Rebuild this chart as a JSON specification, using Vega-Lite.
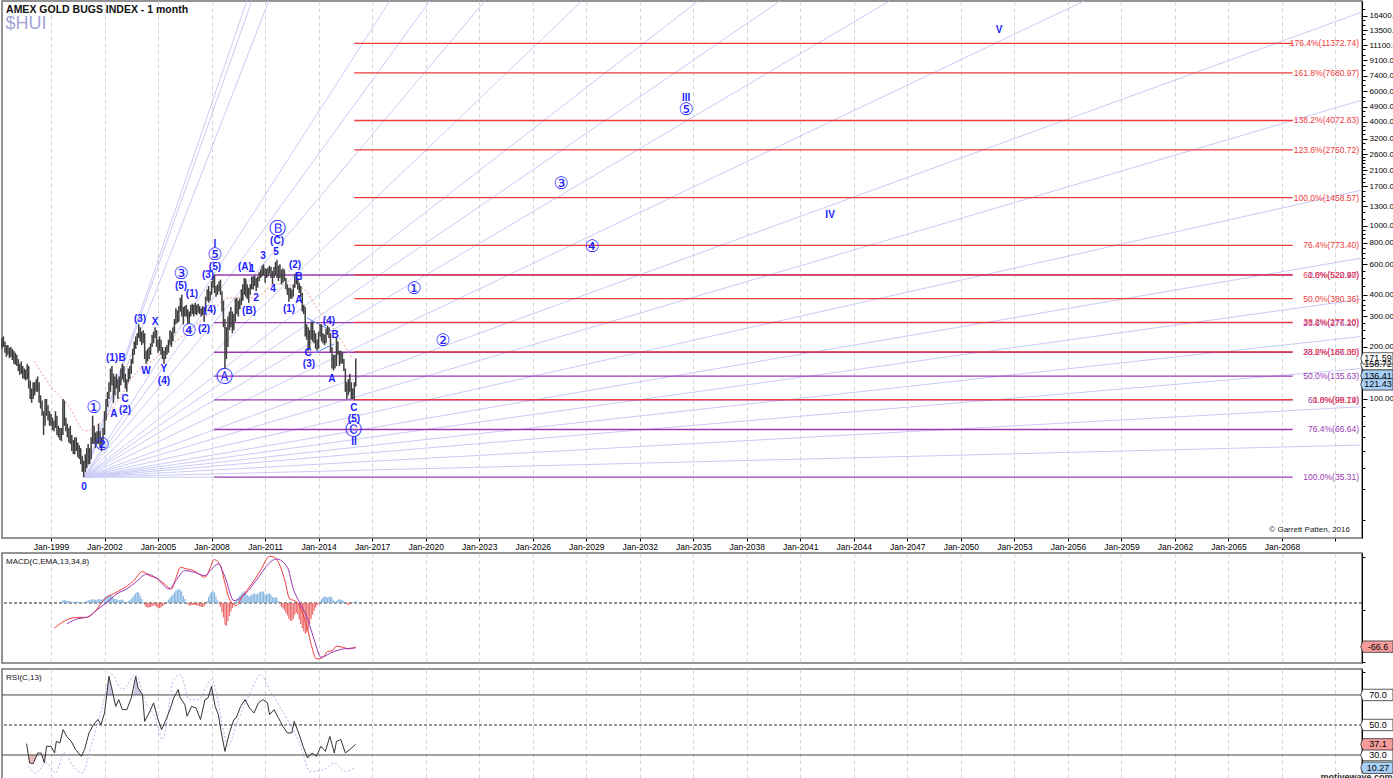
{
"$schema":"https://vega.github.io/schema/vega-lite/v6.json",
"padding":{"left":0,"top":0,"right":-8,"bottom":0},
"spacing":0,
"background":"white",
"resolve":{"scale":{"x":"independent","y":"independent"}},
"config":{"font":"Liberation Sans","view":{"stroke":"#707070","strokeWidth":1.5},"concat":{"spacing":0}},
"datasets":{
"price":[
{"t":1996.25,"l":195,"h":225},{"t":1996.333,"l":200,"h":230},{"t":1996.417,"l":185,"h":215},{"t":1996.5,"l":175,"h":205},{"t":1996.583,"l":180,"h":205},{"t":1996.667,"l":172,"h":198},{"t":1996.75,"l":175,"h":200},{"t":1996.833,"l":168,"h":195},{"t":1996.917,"l":160,"h":190},
{"t":1997.0,"l":158,"h":185},{"t":1997.083,"l":155,"h":180},{"t":1997.167,"l":145,"h":170},{"t":1997.25,"l":138,"h":160},{"t":1997.333,"l":140,"h":165},{"t":1997.417,"l":132,"h":155},{"t":1997.5,"l":130,"h":150},{"t":1997.583,"l":128,"h":148},{"t":1997.667,"l":130,"h":160},{"t":1997.75,"l":115,"h":155},{"t":1997.833,"l":100,"h":128},{"t":1997.917,"l":95,"h":115},
{"t":1998.0,"l":100,"h":125},{"t":1998.083,"l":105,"h":125},{"t":1998.167,"l":110,"h":130},{"t":1998.25,"l":110,"h":135},{"t":1998.333,"l":95,"h":125},{"t":1998.417,"l":88,"h":105},{"t":1998.5,"l":80,"h":98},{"t":1998.583,"l":62,"h":85},{"t":1998.667,"l":70,"h":100},{"t":1998.75,"l":80,"h":100},{"t":1998.833,"l":75,"h":92},{"t":1998.917,"l":70,"h":85},
{"t":1999.0,"l":70,"h":82},{"t":1999.083,"l":66,"h":78},{"t":1999.167,"l":65,"h":75},{"t":1999.25,"l":68,"h":85},{"t":1999.333,"l":62,"h":80},{"t":1999.417,"l":60,"h":70},{"t":1999.5,"l":58,"h":68},{"t":1999.583,"l":57,"h":68},{"t":1999.667,"l":62,"h":100},{"t":1999.75,"l":70,"h":98},{"t":1999.833,"l":65,"h":78},{"t":1999.917,"l":60,"h":72},
{"t":2000.0,"l":56,"h":68},{"t":2000.083,"l":55,"h":70},{"t":2000.167,"l":50,"h":62},{"t":2000.25,"l":48,"h":58},{"t":2000.333,"l":48,"h":60},{"t":2000.417,"l":50,"h":60},{"t":2000.5,"l":46,"h":56},{"t":2000.583,"l":45,"h":54},{"t":2000.667,"l":42,"h":52},{"t":2000.75,"l":38,"h":47},{"t":2000.833,"l":35.31,"h":44},{"t":2000.917,"l":38,"h":48},
{"t":2001.0,"l":40,"h":52},{"t":2001.083,"l":42,"h":55},{"t":2001.167,"l":42,"h":52},{"t":2001.25,"l":45,"h":60},{"t":2001.333,"l":55,"h":80},{"t":2001.417,"l":55,"h":70},{"t":2001.5,"l":52,"h":64},{"t":2001.583,"l":55,"h":65},{"t":2001.667,"l":55,"h":72},{"t":2001.75,"l":52,"h":65},{"t":2001.833,"l":50,"h":60},{"t":2001.917,"l":55,"h":68},
{"t":2002.0,"l":62,"h":85},{"t":2002.083,"l":75,"h":100},{"t":2002.167,"l":90,"h":110},{"t":2002.25,"l":100,"h":125},{"t":2002.333,"l":110,"h":150},{"t":2002.417,"l":120,"h":155},{"t":2002.5,"l":95,"h":140},{"t":2002.583,"l":105,"h":135},{"t":2002.667,"l":115,"h":140},{"t":2002.75,"l":100,"h":130},{"t":2002.833,"l":110,"h":135},{"t":2002.917,"l":120,"h":150},
{"t":2003.0,"l":130,"h":160},{"t":2003.083,"l":125,"h":155},{"t":2003.167,"l":115,"h":140},{"t":2003.25,"l":110,"h":130},{"t":2003.333,"l":125,"h":150},{"t":2003.417,"l":130,"h":155},{"t":2003.5,"l":140,"h":170},{"t":2003.583,"l":160,"h":195},{"t":2003.667,"l":180,"h":215},{"t":2003.75,"l":195,"h":230},{"t":2003.833,"l":205,"h":240},{"t":2003.917,"l":225,"h":270},
{"t":2004.0,"l":215,"h":260},{"t":2004.083,"l":205,"h":245},{"t":2004.167,"l":210,"h":250},{"t":2004.25,"l":170,"h":240},{"t":2004.333,"l":160,"h":190},{"t":2004.417,"l":165,"h":195},{"t":2004.5,"l":170,"h":200},{"t":2004.583,"l":180,"h":210},{"t":2004.667,"l":200,"h":235},{"t":2004.75,"l":210,"h":245},{"t":2004.833,"l":225,"h":260},{"t":2004.917,"l":200,"h":250},
{"t":2005.0,"l":185,"h":220},{"t":2005.083,"l":190,"h":230},{"t":2005.167,"l":180,"h":220},{"t":2005.25,"l":170,"h":200},{"t":2005.333,"l":160,"h":190},{"t":2005.417,"l":170,"h":200},{"t":2005.5,"l":180,"h":205},{"t":2005.583,"l":185,"h":220},{"t":2005.667,"l":205,"h":250},{"t":2005.75,"l":200,"h":245},{"t":2005.833,"l":215,"h":260},{"t":2005.917,"l":240,"h":290},
{"t":2006.0,"l":270,"h":335},{"t":2006.083,"l":275,"h":325},{"t":2006.167,"l":280,"h":345},{"t":2006.25,"l":320,"h":385},{"t":2006.333,"l":300,"h":400},{"t":2006.417,"l":270,"h":340},{"t":2006.5,"l":300,"h":345},{"t":2006.583,"l":300,"h":350},{"t":2006.667,"l":270,"h":330},{"t":2006.75,"l":275,"h":320},{"t":2006.833,"l":300,"h":350},{"t":2006.917,"l":310,"h":355},
{"t":2007.0,"l":300,"h":350},{"t":2007.083,"l":310,"h":360},{"t":2007.167,"l":305,"h":350},{"t":2007.25,"l":315,"h":355},{"t":2007.333,"l":310,"h":345},{"t":2007.417,"l":300,"h":335},{"t":2007.5,"l":305,"h":345},{"t":2007.583,"l":280,"h":340},{"t":2007.667,"l":320,"h":390},{"t":2007.75,"l":370,"h":430},{"t":2007.833,"l":360,"h":450},{"t":2007.917,"l":370,"h":420},
{"t":2008.0,"l":400,"h":480},{"t":2008.083,"l":440,"h":515},{"t":2008.167,"l":410,"h":521},{"t":2008.25,"l":390,"h":450},{"t":2008.333,"l":400,"h":460},{"t":2008.417,"l":420,"h":480},{"t":2008.5,"l":400,"h":490},{"t":2008.583,"l":320,"h":420},{"t":2008.667,"l":260,"h":370},{"t":2008.75,"l":150,"h":290},{"t":2008.833,"l":170,"h":260},{"t":2008.917,"l":200,"h":300},
{"t":2009.0,"l":250,"h":320},{"t":2009.083,"l":260,"h":340},{"t":2009.167,"l":240,"h":320},{"t":2009.25,"l":250,"h":310},{"t":2009.333,"l":280,"h":380},{"t":2009.417,"l":310,"h":385},{"t":2009.5,"l":300,"h":370},{"t":2009.583,"l":330,"h":380},{"t":2009.667,"l":350,"h":430},{"t":2009.75,"l":370,"h":460},{"t":2009.833,"l":400,"h":500},{"t":2009.917,"l":390,"h":495},
{"t":2010.0,"l":380,"h":460},{"t":2010.083,"l":360,"h":440},{"t":2010.167,"l":400,"h":460},{"t":2010.25,"l":430,"h":510},{"t":2010.333,"l":430,"h":510},{"t":2010.417,"l":450,"h":520},{"t":2010.5,"l":420,"h":500},{"t":2010.583,"l":440,"h":510},{"t":2010.667,"l":480,"h":540},{"t":2010.75,"l":500,"h":560},{"t":2010.833,"l":510,"h":590},{"t":2010.917,"l":520,"h":600},
{"t":2011.0,"l":470,"h":570},{"t":2011.083,"l":500,"h":565},{"t":2011.167,"l":510,"h":575},{"t":2011.25,"l":530,"h":590},{"t":2011.333,"l":500,"h":580},{"t":2011.417,"l":460,"h":550},{"t":2011.5,"l":500,"h":580},{"t":2011.583,"l":520,"h":620},{"t":2011.667,"l":500,"h":638},{"t":2011.75,"l":480,"h":590},{"t":2011.833,"l":500,"h":600},{"t":2011.917,"l":460,"h":560},
{"t":2012.0,"l":470,"h":570},{"t":2012.083,"l":480,"h":560},{"t":2012.167,"l":430,"h":500},{"t":2012.25,"l":400,"h":460},{"t":2012.333,"l":365,"h":440},{"t":2012.417,"l":380,"h":440},{"t":2012.5,"l":380,"h":430},{"t":2012.583,"l":390,"h":460},{"t":2012.667,"l":440,"h":530},{"t":2012.75,"l":460,"h":540},{"t":2012.833,"l":430,"h":500},{"t":2012.917,"l":410,"h":470},
{"t":2013.0,"l":390,"h":450},{"t":2013.083,"l":320,"h":410},{"t":2013.167,"l":310,"h":350},{"t":2013.25,"l":230,"h":340},{"t":2013.333,"l":220,"h":270},{"t":2013.417,"l":190,"h":260},{"t":2013.5,"l":195,"h":250},{"t":2013.583,"l":220,"h":280},{"t":2013.667,"l":215,"h":280},{"t":2013.75,"l":210,"h":250},{"t":2013.833,"l":195,"h":240},{"t":2013.917,"l":190,"h":220},
{"t":2014.0,"l":195,"h":245},{"t":2014.083,"l":230,"h":270},{"t":2014.167,"l":215,"h":270},{"t":2014.25,"l":210,"h":240},{"t":2014.333,"l":205,"h":235},{"t":2014.417,"l":210,"h":255},{"t":2014.5,"l":235,"h":265},{"t":2014.583,"l":225,"h":260},{"t":2014.667,"l":185,"h":240},{"t":2014.75,"l":150,"h":200},{"t":2014.833,"l":146,"h":180},{"t":2014.917,"l":150,"h":180},
{"t":2015.0,"l":155,"h":225},{"t":2015.083,"l":180,"h":215},{"t":2015.167,"l":155,"h":190},{"t":2015.25,"l":160,"h":190},{"t":2015.333,"l":160,"h":185},{"t":2015.417,"l":145,"h":170},{"t":2015.5,"l":110,"h":150},{"t":2015.583,"l":100,"h":125},{"t":2015.667,"l":105,"h":130},{"t":2015.75,"l":110,"h":140},{"t":2015.833,"l":100,"h":125},{"t":2015.917,"l":100,"h":115},
{"t":2016.0,"l":99.17,"h":125},{"t":2016.083,"l":118,"h":171.59}
],
"ma":[
{"t":1998.05,"v":166},{"t":1999.06,"v":115.8},{"t":2000.0,"v":91.1},{"t":2000.91,"v":65.3},{"t":2001.86,"v":74.6},{"t":2002.81,"v":100},{"t":2003.71,"v":139.5},{"t":2004.66,"v":166},{"t":2005.6,"v":200},{"t":2006.74,"v":247},{"t":2007.86,"v":310},{"t":2008.98,"v":384},{"t":2010.43,"v":384},{"t":2011.56,"v":462},{"t":2013.07,"v":438},{"t":2014.02,"v":323},{"t":2014.92,"v":247},{"t":2015.87,"v":172.6}
],
"fan":[
{"id":1,"t":2000.833,"v":35.31},{"id":1,"t":2012.30,"v":100000},
{"id":2,"t":2000.833,"v":35.31},{"id":2,"t":2012.65,"v":100000},
{"id":3,"t":2000.833,"v":35.31},{"id":3,"t":2013.84,"v":100000},
{"id":4,"t":2000.833,"v":35.31},{"id":4,"t":2022.35,"v":100000},
{"id":5,"t":2000.833,"v":35.31},{"id":5,"t":2025.16,"v":100000},
{"id":6,"t":2000.833,"v":35.31},{"id":6,"t":2029.03,"v":100000},
{"id":7,"t":2000.833,"v":35.31},{"id":7,"t":2035.85,"v":100000},
{"id":8,"t":2000.833,"v":35.31},{"id":8,"t":2044.02,"v":100000},
{"id":9,"t":2000.833,"v":35.31},{"id":9,"t":2049.77,"v":100000},
{"id":10,"t":2000.833,"v":35.31},{"id":10,"t":2057.47,"v":100000},
{"id":11,"t":2000.833,"v":35.31},{"id":11,"t":2071.16,"v":100000},
{"id":12,"t":2000.833,"v":35.31},{"id":12,"t":2072.49,"v":17260},
{"id":13,"t":2000.833,"v":35.31},{"id":13,"t":2072.49,"v":5346},
{"id":14,"t":2000.833,"v":35.31},{"id":14,"t":2072.49,"v":1614},
{"id":15,"t":2000.833,"v":35.31},{"id":15,"t":2072.49,"v":653},
{"id":16,"t":2000.833,"v":35.31},{"id":16,"t":2072.49,"v":378},
{"id":17,"t":2000.833,"v":35.31},{"id":17,"t":2072.49,"v":230},
{"id":18,"t":2000.833,"v":35.31},{"id":18,"t":2072.49,"v":150},
{"id":19,"t":2000.833,"v":35.31},{"id":19,"t":2072.49,"v":90.3},
{"id":20,"t":2000.833,"v":35.31},{"id":20,"t":2072.49,"v":54.2},
{"id":21,"t":2000.833,"v":35.31},{"id":21,"t":2008.14,"v":35.31}
],
"fib":[
{"t":2008.14,"v":520.97,"c":"p","s":"0.0%(520.97)"},
{"t":2008.14,"v":276.2,"c":"p","s":"23.6%(276.20)"},
{"t":2008.14,"v":186.3,"c":"p","s":"38.2%(186.30)"},
{"t":2008.14,"v":135.63,"c":"p","s":"50.0%(135.63)"},
{"t":2008.14,"v":98.74,"c":"p","s":"61.8%(98.74)"},
{"t":2008.14,"v":66.64,"c":"p","s":"76.4%(66.64)"},
{"t":2008.14,"v":35.31,"c":"p","s":"100.0%(35.31)"},
{"t":2016.0,"v":99.19,"c":"r","s":"0.0%(99.19)"},
{"t":2016.0,"v":187.05,"c":"r","s":"23.6%(187.05)"},
{"t":2016.0,"v":277.1,"c":"r","s":"38.2%(277.10)"},
{"t":2016.0,"v":380.36,"c":"r","s":"50.0%(380.36)"},
{"t":2016.0,"v":522.4,"c":"r","s":"61.8%(522.40)"},
{"t":2016.0,"v":773.4,"c":"r","s":"76.4%(773.40)"},
{"t":2016.0,"v":1458.57,"c":"r","s":"100.0%(1458.57)"},
{"t":2016.0,"v":2750.72,"c":"r","s":"123.6%(2750.72)"},
{"t":2016.0,"v":4072.83,"c":"r","s":"138.2%(4072.83)"},
{"t":2016.0,"v":7680.97,"c":"r","s":"161.8%(7680.97)"},
{"t":2016.0,"v":11372.74,"c":"r","s":"176.4%(11372.74)"}
],
"chan":[
{"id":1,"t":2013.35,"v":294},{"id":1,"t":2014.75,"v":247},
{"id":2,"t":2013.80,"v":184.6},{"id":2,"t":2014.86,"v":208}
],
"wl":[
{"t":2000.85,"v":31.0,"s":"0"},{"t":2002.53,"v":81.9,"s":"A"},{"t":2003.15,"v":100,"s":"C"},{"t":2003.15,"v":86.4,"s":"(2)"},
{"t":2002.42,"v":172.6,"s":"(1)"},{"t":2002.98,"v":172.6,"s":"B"},{"t":2003.99,"v":289.6,"s":"(3)"},{"t":2004.83,"v":278.5,"s":"X"},
{"t":2004.33,"v":145.2,"s":"W"},{"t":2005.33,"v":149,"s":"Y"},{"t":2005.33,"v":127,"s":"(4)"},{"t":2006.29,"v":450,"s":"(5)"},
{"t":2006.9,"v":404.7,"s":"(1)"},{"t":2007.58,"v":254,"s":"(2)"},{"t":2007.91,"v":327,"s":"(4)"},{"t":2007.8,"v":521,"s":"(3)"},
{"t":2008.19,"v":580,"s":"(5)"},{"t":2008.19,"v":786,"s":"I"},{"t":2009.87,"v":580,"s":"(A)"},{"t":2010.27,"v":564,"s":"1"},
{"t":2010.1,"v":323,"s":"(B)"},{"t":2010.49,"v":384,"s":"2"},{"t":2010.88,"v":671,"s":"3"},{"t":2011.44,"v":432,"s":"4"},
{"t":2011.61,"v":708,"s":"5"},{"t":2011.67,"v":819,"s":"(C)"},{"t":2012.68,"v":595,"s":"(2)"},{"t":2012.9,"v":507,"s":"B"},
{"t":2012.9,"v":373,"s":"A"},{"t":2012.34,"v":331,"s":"(1)"},{"t":2014.58,"v":282,"s":"(4)"},{"t":2014.92,"v":234,"s":"B"},
{"t":2013.41,"v":184.5,"s":"C"},{"t":2013.46,"v":159.3,"s":"(3)"},{"t":2014.75,"v":130.6,"s":"A"},{"t":2015.98,"v":88.7,"s":"C"},
{"t":2015.98,"v":76.6,"s":"(5)"},{"t":2015.98,"v":56.4,"s":"II"},{"t":2034.6,"v":5500,"s":"III"},{"t":2042.67,"v":1159,"s":"IV"},
{"t":2052.14,"v":13590,"s":"V"}
],
"wc":[
{"t":2001.86,"v":54.2,"s":"②"},{"t":2001.41,"v":88.7,"s":"①"},{"t":2006.29,"v":528,"s":"③"},{"t":2006.74,"v":247,"s":"④"},
{"t":2008.19,"v":680,"s":"⑤"},{"t":2008.75,"v":134,"s":"Ⓐ"},{"t":2011.67,"v":961,"s":"Ⓑ"},{"t":2015.98,"v":66.2,"s":"Ⓒ"},
{"t":2019.35,"v":432,"s":"①"},{"t":2020.97,"v":216,"s":"②"},{"t":2027.59,"v":1750,"s":"③"},{"t":2029.33,"v":757,"s":"④"},
{"t":2034.6,"v":4690,"s":"⑤"}
],
"boxmain":[
{"v":158.72,"s":"158.72","f":"w"},{"v":171.59,"s":"171.59","f":"w"},{"v":136.41,"s":"136.41","f":"b"},{"v":121.43,"s":"121.43","f":"b"}
],
"macd":[
{"k":"m","t":1999.2,"y":-38.1},{"k":"m","t":1999.6,"y":-30},{"k":"m","t":2000.0,"y":-24.4},{"k":"m","t":2000.5,"y":-22},{"k":"m","t":2001.0,"y":-21.9},{"k":"m","t":2001.5,"y":-12},{"k":"m","t":2002.0,"y":6.1},{"k":"m","t":2002.5,"y":14},{"k":"m","t":2003.0,"y":21.3},{"k":"m","t":2003.6,"y":33},{"k":"m","t":2004.13,"y":47.8},{"k":"m","t":2004.5,"y":42},{"k":"m","t":2005.0,"y":36.6},{"k":"m","t":2005.4,"y":28},{"k":"m","t":2005.75,"y":21.3},{"k":"m","t":2006.0,"y":38},{"k":"m","t":2006.25,"y":54.4},{"k":"m","t":2006.6,"y":52},{"k":"m","t":2007.0,"y":49.3},{"k":"m","t":2007.3,"y":44},{"k":"m","t":2007.63,"y":39.1},{"k":"m","t":2007.9,"y":52},{"k":"m","t":2008.13,"y":66.1},{"k":"m","t":2008.5,"y":56.9},{"k":"m","t":2008.75,"y":30},{"k":"m","t":2009.0,"y":6.1},{"k":"m","t":2009.38,"y":-4.1},{"k":"m","t":2009.75,"y":11.2},{"k":"m","t":2010.25,"y":29},{"k":"m","t":2010.75,"y":50},{"k":"m","t":2011.25,"y":71.1},{"k":"m","t":2011.5,"y":70},{"k":"m","t":2011.75,"y":62},{"k":"m","t":2012.1,"y":35},{"k":"m","t":2012.38,"y":6.1},{"k":"m","t":2012.6,"y":4},{"k":"m","t":2012.88,"y":-1.5},{"k":"m","t":2013.13,"y":-18},{"k":"m","t":2013.38,"y":-39.6},{"k":"m","t":2013.6,"y":-65},{"k":"m","t":2013.88,"y":-85.4},{"k":"m","t":2014.25,"y":-82.8},{"k":"m","t":2014.5,"y":-74},{"k":"m","t":2014.75,"y":-72.7},{"k":"m","t":2015.0,"y":-66},{"k":"m","t":2015.38,"y":-67.6},{"k":"m","t":2015.7,"y":-70},{"k":"m","t":2016.08,"y":-66.6},
{"k":"s","t":1999.88,"y":-32},{"k":"s","t":2000.5,"y":-24},{"k":"s","t":2001.0,"y":-21.9},{"k":"s","t":2001.6,"y":-10},{"k":"s","t":2002.25,"y":3.6},{"k":"s","t":2002.7,"y":14},{"k":"s","t":2003.25,"y":21.3},{"k":"s","t":2003.8,"y":33},{"k":"s","t":2004.38,"y":44.2},{"k":"s","t":2004.9,"y":38},{"k":"s","t":2005.63,"y":21.3},{"k":"s","t":2006.0,"y":34},{"k":"s","t":2006.5,"y":49.3},{"k":"s","t":2007.0,"y":47},{"k":"s","t":2007.63,"y":41.7},{"k":"s","t":2008.0,"y":52},{"k":"s","t":2008.38,"y":59.4},{"k":"s","t":2008.75,"y":40},{"k":"s","t":2009.25,"y":3.6},{"k":"s","t":2009.88,"y":13.7},{"k":"s","t":2010.63,"y":39.1},{"k":"s","t":2011.2,"y":60},{"k":"s","t":2011.63,"y":67.1},{"k":"s","t":2012.25,"y":54.4},{"k":"s","t":2012.6,"y":20},{"k":"s","t":2012.88,"y":3.6},{"k":"s","t":2013.38,"y":-24.4},{"k":"s","t":2013.8,"y":-60},{"k":"s","t":2014.13,"y":-82.8},{"k":"s","t":2014.75,"y":-75.2},{"k":"s","t":2015.4,"y":-70},{"k":"s","t":2016.08,"y":-68.6}
],
"hist":[
{"t":1999.583,"h":2},{"t":1999.667,"h":4},{"t":1999.75,"h":5},{"t":1999.833,"h":4},{"t":1999.917,"h":3},
{"t":2000.0,"h":3},{"t":2000.083,"h":3},{"t":2000.167,"h":2},{"t":2000.25,"h":2},{"t":2000.333,"h":2},{"t":2000.417,"h":2},{"t":2000.5,"h":2},{"t":2000.583,"h":2},{"t":2000.667,"h":1},{"t":2000.75,"h":1},{"t":2000.833,"h":1},{"t":2000.917,"h":2},
{"t":2001.0,"h":3},{"t":2001.083,"h":4},{"t":2001.167,"h":4},{"t":2001.25,"h":5},{"t":2001.333,"h":6},{"t":2001.417,"h":5},{"t":2001.5,"h":5},{"t":2001.583,"h":5},{"t":2001.667,"h":6},{"t":2001.75,"h":6},{"t":2001.833,"h":5},{"t":2001.917,"h":6},
{"t":2002.0,"h":8},{"t":2002.083,"h":10},{"t":2002.167,"h":11},{"t":2002.25,"h":12},{"t":2002.333,"h":13},{"t":2002.417,"h":11},{"t":2002.5,"h":7},{"t":2002.583,"h":6},{"t":2002.667,"h":6},{"t":2002.75,"h":4},{"t":2002.833,"h":4},{"t":2002.917,"h":5},
{"t":2003.0,"h":5},{"t":2003.083,"h":3},{"t":2003.167,"h":1},{"t":2003.25,"h":1},{"t":2003.333,"h":3},{"t":2003.417,"h":4},{"t":2003.5,"h":6},{"t":2003.583,"h":9},{"t":2003.667,"h":12},{"t":2003.75,"h":15},{"t":2003.833,"h":17},{"t":2003.917,"h":16},
{"t":2004.0,"h":11},{"t":2004.083,"h":6},{"t":2004.167,"h":2},{"t":2004.25,"h":-3},{"t":2004.333,"h":-6},{"t":2004.417,"h":-7},{"t":2004.5,"h":-7},{"t":2004.583,"h":-6},{"t":2004.667,"h":-5},{"t":2004.75,"h":-4},{"t":2004.833,"h":-4},{"t":2004.917,"h":-6},
{"t":2005.0,"h":-8},{"t":2005.083,"h":-8},{"t":2005.167,"h":-7},{"t":2005.25,"h":-5},{"t":2005.333,"h":-3},{"t":2005.417,"h":-1},{"t":2005.5,"h":2},{"t":2005.583,"h":5},{"t":2005.667,"h":8},{"t":2005.75,"h":10},{"t":2005.833,"h":13},{"t":2005.917,"h":16},
{"t":2006.0,"h":19},{"t":2006.083,"h":20},{"t":2006.167,"h":21},{"t":2006.25,"h":20},{"t":2006.333,"h":17},{"t":2006.417,"h":11},{"t":2006.5,"h":6},{"t":2006.583,"h":2},{"t":2006.667,"h":-2},{"t":2006.75,"h":-4},{"t":2006.833,"h":-4},{"t":2006.917,"h":-3},
{"t":2007.0,"h":-3},{"t":2007.083,"h":-3},{"t":2007.167,"h":-4},{"t":2007.25,"h":-4},{"t":2007.333,"h":-5},{"t":2007.417,"h":-6},{"t":2007.5,"h":-6},{"t":2007.583,"h":-5},{"t":2007.667,"h":-2},{"t":2007.75,"h":3},{"t":2007.833,"h":9},{"t":2007.917,"h":14},
{"t":2008.0,"h":17},{"t":2008.083,"h":18},{"t":2008.167,"h":16},{"t":2008.25,"h":10},{"t":2008.333,"h":4},{"t":2008.417,"h":-2},{"t":2008.5,"h":-6},{"t":2008.583,"h":-14},{"t":2008.667,"h":-22},{"t":2008.75,"h":-33},{"t":2008.833,"h":-35},{"t":2008.917,"h":-28},
{"t":2009.0,"h":-20},{"t":2009.083,"h":-13},{"t":2009.167,"h":-8},{"t":2009.25,"h":-3},{"t":2009.333,"h":2},{"t":2009.417,"h":5},{"t":2009.5,"h":8},{"t":2009.583,"h":11},{"t":2009.667,"h":14},{"t":2009.75,"h":16},{"t":2009.833,"h":18},{"t":2009.917,"h":15},
{"t":2010.0,"h":12},{"t":2010.083,"h":10},{"t":2010.167,"h":11},{"t":2010.25,"h":13},{"t":2010.333,"h":14},{"t":2010.417,"h":15},{"t":2010.5,"h":13},{"t":2010.583,"h":14},{"t":2010.667,"h":16},{"t":2010.75,"h":17},{"t":2010.833,"h":18},{"t":2010.917,"h":17},
{"t":2011.0,"h":13},{"t":2011.083,"h":13},{"t":2011.167,"h":14},{"t":2011.25,"h":15},{"t":2011.333,"h":12},{"t":2011.417,"h":9},{"t":2011.5,"h":8},{"t":2011.583,"h":9},{"t":2011.667,"h":8},{"t":2011.75,"h":3},{"t":2011.833,"h":-2},{"t":2011.917,"h":-6},
{"t":2012.0,"h":-8},{"t":2012.083,"h":-11},{"t":2012.167,"h":-15},{"t":2012.25,"h":-19},{"t":2012.333,"h":-24},{"t":2012.417,"h":-27},{"t":2012.5,"h":-27},{"t":2012.583,"h":-24},{"t":2012.667,"h":-18},{"t":2012.75,"h":-15},{"t":2012.833,"h":-18},{"t":2012.917,"h":-25},
{"t":2013.0,"h":-32},{"t":2013.083,"h":-38},{"t":2013.167,"h":-43},{"t":2013.25,"h":-47},{"t":2013.333,"h":-45},{"t":2013.417,"h":-40},{"t":2013.5,"h":-32},{"t":2013.583,"h":-24},{"t":2013.667,"h":-18},{"t":2013.75,"h":-12},{"t":2013.833,"h":-7},{"t":2013.917,"h":-4},
{"t":2014.0,"h":-1},{"t":2014.083,"h":3},{"t":2014.167,"h":6},{"t":2014.25,"h":9},{"t":2014.333,"h":10},{"t":2014.417,"h":9},{"t":2014.5,"h":8},{"t":2014.583,"h":9},{"t":2014.667,"h":10},{"t":2014.75,"h":8},{"t":2014.833,"h":4},{"t":2014.917,"h":2},
{"t":2015.0,"h":3},{"t":2015.083,"h":5},{"t":2015.167,"h":6},{"t":2015.25,"h":5},{"t":2015.333,"h":4},{"t":2015.417,"h":3},{"t":2015.5,"h":1},{"t":2015.583,"h":-2},{"t":2015.667,"h":-3},{"t":2015.75,"h":-2},{"t":2015.833,"h":-1},{"t":2015.917,"h":1},
{"t":2016.0,"h":2},{"t":2016.083,"h":3}
],
"rsi":[
{"t":1997.63,"r":37.6},{"t":1997.8,"r":24.7},{"t":1998.0,"r":24.2},{"t":1998.25,"r":31.3},{"t":1998.45,"r":31.3},{"t":1998.63,"r":24.7},{"t":1998.75,"r":35.8},{"t":1999.0,"r":35.8},{"t":1999.2,"r":31.3},{"t":1999.3,"r":39.1},{"t":1999.5,"r":38},{"t":1999.68,"r":46.9},{"t":1999.88,"r":42.4},{"t":2000.13,"r":39.1},{"t":2000.38,"r":33.6},{"t":2000.7,"r":29.1},{"t":2000.88,"r":33.6},{"t":2001.13,"r":44.7},{"t":2001.38,"r":50.2},{"t":2001.63,"r":53.6},{"t":2001.8,"r":50.2},{"t":2002.0,"r":58},{"t":2002.25,"r":82.4},{"t":2002.38,"r":75.8},{"t":2002.63,"r":62.4},{"t":2002.8,"r":66.9},{"t":2003.0,"r":60.2},{"t":2003.25,"r":60.2},{"t":2003.5,"r":68},{"t":2003.75,"r":82.4},{"t":2003.88,"r":74.7},{"t":2004.13,"r":70.2},{"t":2004.25,"r":52.4},{"t":2004.5,"r":58},{"t":2004.75,"r":64.7},{"t":2005.0,"r":53.6},{"t":2005.2,"r":46.9},{"t":2005.45,"r":53.6},{"t":2005.7,"r":61.3},{"t":2005.88,"r":68},{"t":2006.13,"r":73.6},{"t":2006.25,"r":68},{"t":2006.5,"r":63.6},{"t":2006.63,"r":55.8},{"t":2006.88,"r":62.4},{"t":2007.13,"r":61.3},{"t":2007.38,"r":53.6},{"t":2007.63,"r":66.9},{"t":2007.8,"r":68},{"t":2008.0,"r":75.8},{"t":2008.2,"r":62.4},{"t":2008.38,"r":56.9},{"t":2008.55,"r":44.7},{"t":2008.75,"r":32.4},{"t":2009.0,"r":44.7},{"t":2009.25,"r":53.6},{"t":2009.38,"r":54.7},{"t":2009.63,"r":62.4},{"t":2009.88,"r":66.9},{"t":2010.13,"r":61.3},{"t":2010.38,"r":58},{"t":2010.63,"r":64.7},{"t":2010.88,"r":66.9},{"t":2011.13,"r":64.7},{"t":2011.25,"r":56.9},{"t":2011.5,"r":60.2},{"t":2011.75,"r":54.7},{"t":2012.0,"r":49.1},{"t":2012.25,"r":44.7},{"t":2012.5,"r":44.7},{"t":2012.63,"r":52.4},{"t":2012.88,"r":44.7},{"t":2013.13,"r":35.8},{"t":2013.38,"r":28},{"t":2013.63,"r":31.3},{"t":2013.88,"r":29.1},{"t":2014.13,"r":35.8},{"t":2014.38,"r":32.4},{"t":2014.63,"r":42.4},{"t":2014.88,"r":31.3},{"t":2015.0,"r":39.1},{"t":2015.25,"r":40.2},{"t":2015.5,"r":31.3},{"t":2015.75,"r":33.6},{"t":2016.08,"r":37.1}
],
"rsihi":[
{"id":3,"t":2002.1,"r":70},{"id":3,"t":2002.25,"r":82.4},{"id":3,"t":2002.38,"r":75.8},{"id":3,"t":2002.47,"r":70},
{"id":4,"t":2003.6,"r":70},{"id":4,"t":2003.75,"r":82.4},{"id":4,"t":2003.88,"r":74.7},{"id":4,"t":2004.13,"r":70.2},{"id":4,"t":2004.14,"r":70},
{"id":5,"t":2006.08,"r":70},{"id":5,"t":2006.13,"r":73.6},{"id":5,"t":2006.2,"r":70},
{"id":6,"t":2007.92,"r":70},{"id":6,"t":2008.0,"r":75.8},{"id":6,"t":2008.1,"r":70}
],
"rsilo":[
{"id":1,"t":1997.72,"r":30},{"id":1,"t":1997.8,"r":24.7},{"id":1,"t":1998.0,"r":24.2},{"id":1,"t":1998.19,"r":30},
{"id":2,"t":1998.56,"r":30},{"id":2,"t":1998.63,"r":24.7},{"id":2,"t":1998.7,"r":30},
{"id":7,"t":2013.3,"r":30},{"id":7,"t":2013.38,"r":28},{"id":7,"t":2013.5,"r":30}
],
"rsib":[
{"t":1997.75,"r":22.4},{"t":1998.13,"r":18},{"t":1998.75,"r":24.7},{"t":1999.25,"r":18},{"t":1999.75,"r":31.3},{"t":2000.25,"r":22.4},{"t":2000.75,"r":18},{"t":2001.25,"r":35.8},{"t":2001.88,"r":62.4},{"t":2002.38,"r":83.6},{"t":2003.0,"r":73.6},{"t":2003.75,"r":83.6},{"t":2004.25,"r":66.9},{"t":2004.88,"r":53.6},{"t":2005.25,"r":40.2},{"t":2005.88,"r":80.2},{"t":2006.25,"r":83.6},{"t":2006.75,"r":66.9},{"t":2007.25,"r":66.9},{"t":2008.0,"r":80.2},{"t":2008.63,"r":49.1},{"t":2008.88,"r":35.8},{"t":2009.5,"r":53.6},{"t":2010.25,"r":73.6},{"t":2010.75,"r":83.6},{"t":2011.25,"r":73.6},{"t":2012.25,"r":53.6},{"t":2013.0,"r":35.8},{"t":2013.5,"r":19.1},{"t":2014.25,"r":20.2},{"t":2014.88,"r":24.7},{"t":2015.5,"r":19.1},{"t":2016.0,"r":21.3}
]
},
"vconcat":[
{
"width":1360,"height":537,
"layer":[
{"data":{"name":"fan"},"mark":{"type":"line","clip":true,"color":"#cacaf6","strokeWidth":1},
 "encoding":{
  "x":{"field":"t","type":"quantitative","scale":{"domain":[1996.2534,2072.486],"nice":false,"zero":false},
   "axis":{"orient":"bottom","values":[1999,2002,2005,2008,2011,2014,2017,2020,2023,2026,2029,2032,2035,2038,2041,2044,2047,2050,2053,2056,2059,2062,2065,2068,2071],"labelExpr":"datum.value > 2069 ? '' : 'Jan-' + datum.value","grid":true,"gridDash":[4,3],"gridColor":"#d4d4d4","tickSize":3,"tickColor":"#000","labelFontSize":8.5,"labelPadding":1,"labelColor":"#000","labelFont":"Liberation Sans","domain":false,"title":null,"labelOverlap":false,"labelFlush":false}},
  "y":{"field":"v","type":"quantitative","scale":{"type":"log","domain":[15.72,19980],"nice":false},
   "axis":{"orient":"right","values":[100,200,300,400,600,800,1000,1300,1700,2100,2600,3200,4000,4900,6000,7400,9100,11100,13500,16400,20,30,40,50,60,70,80,90,120,140,160,180,225,250,275,325,350,375,450,500,550,650,700,750,850,900,950,1100,1200,1400,1500,1600,1800,1900,2000,2200,2300,2400,2500,2800,3000,3400,3600,3800,4300,4600,5300,5600,6500,7000,8000,8500,9800,10500,12000,12800,14500,15500,18000],
   "labelExpr":"indexof([100,200,300,400,600,800,1000,1300,1700,2100,2600,3200,4000,4900,6000,7400,9100,11100,13500,16400], datum.value) >= 0 ? format(datum.value, '.2f') : ''",
   "tickSize":{"condition":{"test":"indexof([100,200,300,400,600,800,1000,1300,1700,2100,2600,3200,4000,4900,6000,7400,9100,11100,13500,16400], datum.value) >= 0","value":5},"value":3},
   "labelFontSize":8,"labelPadding":2,"labelColor":"#000","labelFont":"Liberation Sans","tickColor":"#000","domainColor":"#000","grid":false,"title":null,"labelOverlap":false,"labelFlush":false}},
  "detail":{"field":"id","type":"nominal"}}},
{"data":{"name":"fib"},"mark":{"type":"rule","strokeWidth":1.3,"clip":true},
 "encoding":{"x":{"field":"t","type":"quantitative"},"x2":{"datum":2068.6},"y":{"field":"v","type":"quantitative"},
  "color":{"field":"c","type":"nominal","scale":{"domain":["r","p"],"range":["#f03a3a","#9a38b4"]},"legend":null}}},
{"data":{"name":"chan"},"mark":{"type":"line","color":"#5f8cff","strokeWidth":1},
 "encoding":{"x":{"field":"t","type":"quantitative"},"y":{"field":"v","type":"quantitative"},"detail":{"field":"id","type":"nominal"}}},
{"data":{"name":"ma"},"mark":{"type":"line","color":"#f29a9a","strokeWidth":1,"strokeDash":[2,2],"interpolate":"monotone"},
 "encoding":{"x":{"field":"t","type":"quantitative"},"y":{"field":"v","type":"quantitative"}}},
{"data":{"name":"price"},"mark":{"type":"rule","color":"#3f3f3f","strokeWidth":1.5},
 "encoding":{"x":{"field":"t","type":"quantitative"},"y":{"field":"l","type":"quantitative"},"y2":{"field":"h"}}},
{"data":{"name":"wl"},"mark":{"type":"text","font":"Liberation Sans","fontWeight":"bold","fontSize":10,"color":"#1c1cff","baseline":"middle","align":"center"},
 "encoding":{"x":{"field":"t","type":"quantitative"},"y":{"field":"v","type":"quantitative"},"text":{"field":"s"}}},
{"data":{"name":"wc"},"mark":{"type":"text","font":"DejaVu Sans","fontSize":17,"color":"#2424ff","baseline":"middle","align":"center"},
 "encoding":{"x":{"field":"t","type":"quantitative"},"y":{"field":"v","type":"quantitative"},"text":{"field":"s"}}},
{"data":{"name":"fib"},"mark":{"type":"text","font":"Liberation Sans","fontSize":8.5,"baseline":"middle","align":"right"},
 "encoding":{"x":{"datum":2072.32},"y":{"field":"v","type":"quantitative"},"text":{"field":"s"},
  "color":{"field":"c","type":"nominal","scale":{"domain":["r","p"],"range":["#f03a3a","#9a38b4"]},"legend":null}}},
{"data":{"values":[{"s":"AMEX GOLD BUGS INDEX - 1 month"}]},"mark":{"type":"text","font":"Liberation Sans","fontWeight":"bold","fontSize":10.5,"color":"#111","align":"left","baseline":"middle"},
 "encoding":{"x":{"datum":1996.48},"y":{"datum":17730},"text":{"field":"s"}}},
{"data":{"values":[{"s":"$HUI"}]},"mark":{"type":"text","font":"Liberation Sans","fontSize":18,"color":"#a4a4d8","align":"left","baseline":"middle"},
 "encoding":{"x":{"datum":1996.45},"y":{"datum":14700},"text":{"field":"s"}}},
{"data":{"values":[{"s":"© Garrett Patten, 2016"}]},"mark":{"type":"text","font":"Liberation Sans","fontSize":8,"color":"#222","align":"right","baseline":"middle"},
 "encoding":{"x":{"datum":2071.81},"y":{"datum":17.6},"text":{"field":"s"}}},
{"data":{"name":"boxmain"},"mark":{"type":"point","shape":"M-1.15,0L-1,-0.38L1,-0.38L1,0.38L-1,0.38Z","size":900,"filled":true,"opacity":1,"stroke":"#333","strokeWidth":0.8,"clip":false},
 "encoding":{"x":{"datum":2073.38},"y":{"field":"v","type":"quantitative"},
  "fill":{"field":"f","type":"nominal","scale":{"domain":["w","b","r"],"range":["#ffffff","#a9d1f7","#f59c9c"]},"legend":null}}},
{"data":{"name":"boxmain"},"mark":{"type":"text","font":"Liberation Sans","fontSize":9,"color":"#000","align":"center","baseline":"middle","clip":false},
 "encoding":{"x":{"datum":2073.38},"y":{"field":"v","type":"quantitative"},"text":{"field":"s"}}}
]
},
{
"width":1360,"height":110,
"layer":[
{"data":{"values":[{"z":0}]},"mark":{"type":"rule","color":"#222","strokeDash":[3,2],"strokeWidth":1},
 "encoding":{
  "y":{"field":"z","type":"quantitative","scale":{"domain":[-91.5,76.2],"nice":false,"zero":false},
   "axis":{"orient":"right","values":[-90,-80,-70,-60,-50,-40,-30,-20,-10,0,10,20,30,40,50,60,70],"labelExpr":"datum.value % 40 === 0 ? (datum.value < 0 ? '-' : '') + format(abs(datum.value), '.1f') : ''","tickSize":{"condition":{"test":"datum.value % 20 === 0","value":5},"value":3},"labelFontSize":8,"labelPadding":2,"labelColor":"#000","labelFont":"Liberation Sans","tickColor":"#000","domainColor":"#000","grid":false,"title":null,"labelOverlap":false,"labelFlush":false}}}},
{"data":{"name":"hist"},"mark":{"type":"rule","strokeWidth":1.2},
 "encoding":{
  "x":{"field":"t","type":"quantitative","scale":{"domain":[1996.2534,2072.486],"nice":false,"zero":false},
   "axis":{"orient":"bottom","values":[1999,2002,2005,2008,2011,2014,2017,2020,2023,2026,2029,2032,2035,2038,2041,2044,2047,2050,2053,2056,2059,2062,2065,2068,2071],"grid":true,"gridDash":[4,3],"gridColor":"#d4d4d4","labels":false,"ticks":false,"domain":false,"title":null}},
  "y":{"field":"h","type":"quantitative"},"y2":{"datum":0},
  "color":{"condition":{"test":"datum.h >= 0","value":"#86b6e2"},"value":"#ec6a6a"}}},
{"data":{"name":"macd"},"mark":{"type":"line","strokeWidth":1,"interpolate":"monotone"},
 "encoding":{"x":{"field":"t","type":"quantitative"},"y":{"field":"y","type":"quantitative"},
  "color":{"field":"k","type":"nominal","scale":{"domain":["m","s"],"range":["#3a3a3a","#c85050"]},"legend":null}}},
{"data":{"values":[{"s":"MACD(C,EMA,13,34,8)"}]},"mark":{"type":"text","font":"Liberation Sans","fontSize":8,"color":"#111","align":"left","baseline":"middle"},
 "encoding":{"x":{"datum":1996.48},"y":{"datum":62.5},"text":{"field":"s"}}},
{"data":{"values":[{"v":-66.6,"s":"-66.6","f":"r"}]},"mark":{"type":"point","shape":"M-1.15,0L-1,-0.38L1,-0.38L1,0.38L-1,0.38Z","size":900,"filled":true,"opacity":1,"stroke":"#333","strokeWidth":0.8,"clip":false},
 "encoding":{"x":{"datum":2073.38},"y":{"field":"v","type":"quantitative"},
  "fill":{"field":"f","type":"nominal","scale":{"domain":["w","b","r"],"range":["#ffffff","#a9d1f7","#f59c9c"]},"legend":null}}},
{"data":{"values":[{"v":-66.6,"s":"-66.6"}]},"mark":{"type":"text","font":"Liberation Sans","fontSize":9,"color":"#000","align":"center","baseline":"middle","clip":false},
 "encoding":{"x":{"datum":2073.38},"y":{"field":"v","type":"quantitative"},"text":{"field":"s"}}}
]
},
{
"width":1360,"height":110,
"layer":[
{"data":{"name":"rsihi"},"mark":{"type":"area","color":"#c4c4e2","opacity":0.9},
 "encoding":{
  "x":{"field":"t","type":"quantitative","scale":{"domain":[1996.2534,2072.486],"nice":false,"zero":false},
   "axis":{"orient":"bottom","values":[1999,2002,2005,2008,2011,2014,2017,2020,2023,2026,2029,2032,2035,2038,2041,2044,2047,2050,2053,2056,2059,2062,2065,2068,2071],"grid":true,"gridDash":[4,3],"gridColor":"#d4d4d4","labels":false,"ticks":false,"domain":false,"title":null}},
  "y":{"field":"r","type":"quantitative","scale":{"domain":[14,87.3],"nice":false,"zero":false},
   "axis":{"orient":"right","values":[15,20,25,30,35,40,45,50,55,60,65,70,75,80,85],"labelExpr":"(datum.value === 40 || datum.value === 60 || datum.value === 80) ? format(datum.value, '.1f') : ''","tickSize":{"condition":{"test":"datum.value % 10 === 0","value":5},"value":3},"labelFontSize":8,"labelPadding":2,"labelColor":"#000","labelFont":"Liberation Sans","tickColor":"#000","domainColor":"#000","grid":false,"title":null,"labelOverlap":false,"labelFlush":false}},
  "y2":{"datum":70},
  "detail":{"field":"id","type":"nominal"}}},
{"data":{"name":"rsilo"},"mark":{"type":"area","color":"#e6b6b6","opacity":0.9},
 "encoding":{"x":{"field":"t","type":"quantitative"},"y":{"field":"r","type":"quantitative"},"y2":{"datum":30},"detail":{"field":"id","type":"nominal"}}},
{"data":{"values":[{"r":70},{"r":30}]},"mark":{"type":"rule","color":"#444","strokeWidth":1},
 "encoding":{"y":{"field":"r","type":"quantitative"}}},
{"data":{"values":[{"r":50}]},"mark":{"type":"rule","color":"#333","strokeDash":[3,2],"strokeWidth":1},
 "encoding":{"y":{"field":"r","type":"quantitative"}}},
{"data":{"name":"rsib"},"mark":{"type":"line","color":"#b4b4ee","strokeDash":[2,2],"strokeWidth":1,"interpolate":"monotone"},
 "encoding":{"x":{"field":"t","type":"quantitative"},"y":{"field":"r","type":"quantitative"}}},
{"data":{"name":"rsi"},"mark":{"type":"line","color":"#333","strokeWidth":1},
 "encoding":{"x":{"field":"t","type":"quantitative"},"y":{"field":"r","type":"quantitative"}}},
{"data":{"values":[{"s":"RSI(C,13)"}]},"mark":{"type":"text","font":"Liberation Sans","fontSize":8,"color":"#111","align":"left","baseline":"middle"},
 "encoding":{"x":{"datum":1996.48},"y":{"datum":81.3},"text":{"field":"s"}}},
{"data":{"values":[{"s":"motivewave.com"}]},"mark":{"type":"point","shape":"M-1,-0.11L1,-0.11L1,0.11L-1,0.11Z","size":5625,"filled":true,"opacity":1,"color":"#ffffff","clip":false},
 "encoding":{"x":{"datum":2072.3},"y":{"datum":15.0}}},
{"data":{"values":[{"r":70,"s":"70.0","f":"w"},{"r":50,"s":"50.0","f":"w"},{"r":30,"s":"30.0","f":"w"},{"r":37.1,"s":"37.1","f":"r"},{"r":21.5,"s":"10.27","f":"b"}]},"mark":{"type":"point","shape":"M-1.15,0L-1,-0.38L1,-0.38L1,0.38L-1,0.38Z","size":900,"filled":true,"opacity":1,"stroke":"#333","strokeWidth":0.8,"clip":false},
 "encoding":{"x":{"datum":2073.38},"y":{"field":"r","type":"quantitative"},
  "fill":{"field":"f","type":"nominal","scale":{"domain":["w","b","r"],"range":["#ffffff","#a9d1f7","#f59c9c"]},"legend":null}}},
{"data":{"values":[{"r":70,"s":"70.0"},{"r":50,"s":"50.0"},{"r":30,"s":"30.0"},{"r":37.1,"s":"37.1"},{"r":21.5,"s":"10.27"}]},"mark":{"type":"text","font":"Liberation Sans","fontSize":9,"color":"#000","align":"center","baseline":"middle","clip":false},
 "encoding":{"x":{"datum":2073.38},"y":{"field":"r","type":"quantitative"},"text":{"field":"s"}}},
{"data":{"values":[{"s":"motivewave.com"}]},"mark":{"type":"text","font":"Liberation Sans","fontWeight":"bold","fontSize":9,"color":"#333","align":"right","baseline":"middle","clip":false},
 "encoding":{"x":{"datum":2074.2},"y":{"datum":15.0},"text":{"field":"s"}}}
]
}
]
}
